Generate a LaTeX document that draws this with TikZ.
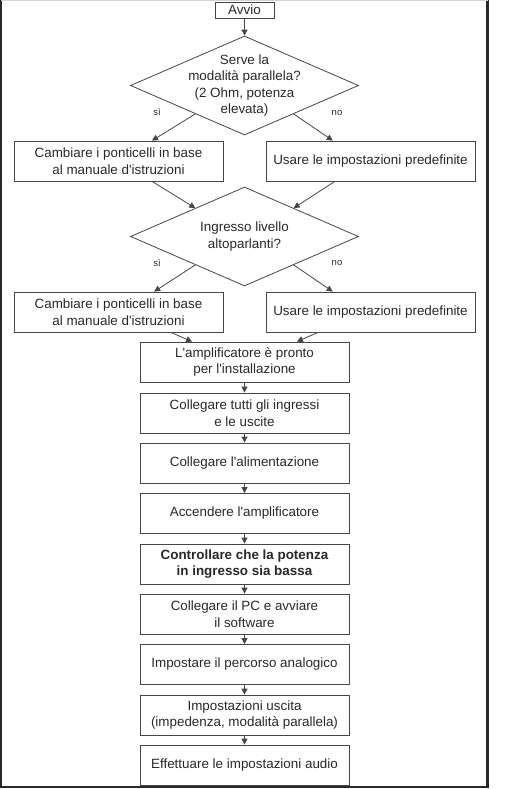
\documentclass[tikz,border=0pt]{standalone}
\usepackage{fontspec}
\setmainfont{Liberation Sans}
\usetikzlibrary{shapes.geometric,arrows.meta,calc}
\definecolor{linegray}{RGB}{70,70,70}
\definecolor{textgray}{RGB}{40,40,40}
\definecolor{framegray}{RGB}{40,40,40}

\begin{document}
\begin{tikzpicture}[x = 1pt, y = -1pt, line width = 0.8pt, draw = linegray,
    >={Triangle[length=6pt,width=6pt]},
    box/.style = {rectangle, draw = linegray, minimum width = 209pt, minimum height = 40pt,
                  inner sep = 0pt, align = center, text = textgray,
                  font = \fontsize{13.4}{16.5}\selectfont},
    startbox/.style = {box, minimum width = 59pt, minimum height = 16pt},
    dia/.style = {diamond, draw = linegray, inner sep = 0pt, minimum width = 228pt, minimum height = 99pt},
    txt/.style = {align = center, inner sep = 0pt, text = textgray, font = \fontsize{13.4}{16.5}\selectfont},
    lab/.style = {inner sep = 0pt, text = textgray, font = \fontsize{9.5}{11}\selectfont}]
\useasboundingbox (0,0) rectangle (514,789);
% frame
\draw[framegray, line width = 2.8pt] (1,0) -- (1,787) -- (487.5,787) -- (487.5,0);
\draw[gray!35, line width = 0.6pt] (1,0.3) -- (487.5,0.3);
% nodes
\draw (244.5,10) node[startbox](avvio){Avvio}
    (244.5,85.5) node[dia](d1){}
    (118.5,161) node[box](cambia1){Cambiare i ponticelli in base\\al manuale d\textquotesingle istruzioni}
    (370.5,161) node[box](usa1){Usare le impostazioni predefinite}
    (244.5,236.5) node[dia](d2){}
    (118.5,312) node[box](cambia2){Cambiare i ponticelli in base\\al manuale d\textquotesingle istruzioni}
    (370.5,312) node[box](usa2){Usare le impostazioni predefinite}
    (244.5,362) node[box](pronto){L\textquotesingle amplificatore è pronto\\per l\textquotesingle installazione}
    (244.5,413) node[box](collega){Collegare tutti gli ingressi\\e le uscite}
    (244.5,463) node[box](alim){Collegare l\textquotesingle alimentazione}
    (244.5,513.5) node[box](accendi){Accendere l\textquotesingle amplificatore}
    (244.5,564) node[box](controlla){\textbf{Controllare che la potenza}\\\textbf{in ingresso sia bassa}}
    (244.5,614) node[box](pc){Collegare il PC e avviare\\il software}
    (244.5,664.5) node[box](percorso){Impostare il percorso analogico}
    (244.5,715) node[box](uscita){Impostazioni uscita\\(impedenza, modalità parallela)}
    (244.5,765) node[box](audio){Effettuare le impostazioni audio};
\node[txt](d1t) at (d1.center) {Serve la\\modalità parallela?\\(2 Ohm, potenza\\elevata)};
\node[txt](d2t) at (d2.center) {Ingresso livello\\altoparlanti?};
\node[lab](si1) at (157,112.5) {sì};
\node[lab](no1) at (337,112.5) {no};
\node[lab](si2) at (157,263) {sì};
\node[lab](no2) at (337,263) {no};
% connectors
\draw [->] (avvio) -- (d1);
\draw [->] ($(d1.west)!0.57!(d1.south)$) -- ($(cambia1.north west)!0.66!(cambia1.north east)$);
\draw [->] ($(d1.east)!0.57!(d1.south)$) -- ($(usa1.north west)!0.32!(usa1.north east)$);
\draw [->] ($(cambia1.south west)!0.66!(cambia1.south east)$) -- ($(d2.west)!0.57!(d2.north)$);
\draw [->] ($(usa1.south west)!0.33!(usa1.south east)$) -- ($(d2.east)!0.57!(d2.north)$);
\draw [->] ($(d2.west)!0.57!(d2.south)$) -- ($(cambia2.north west)!0.67!(cambia2.north east)$);
\draw [->] ($(d2.east)!0.57!(d2.south)$) -- ($(usa2.north west)!0.32!(usa2.north east)$);
\draw [->] ($(cambia2.south west)!0.75!(cambia2.south east)$) -- ($(pronto.north west)!0.25!(pronto.north east)$);
\draw [->] ($(usa2.south west)!0.25!(usa2.south east)$) -- ($(pronto.north west)!0.75!(pronto.north east)$);
\draw [->] (pronto) -- (collega);
\draw [->] (collega) -- (alim);
\draw [->] (alim) -- (accendi);
\draw [->] (accendi) -- (controlla);
\draw [->] (controlla) -- (pc);
\draw [->] (pc) -- (percorso);
\draw [->] (percorso) -- (uscita);
\draw [->] (uscita) -- (audio);
\end{tikzpicture}
\end{document}
